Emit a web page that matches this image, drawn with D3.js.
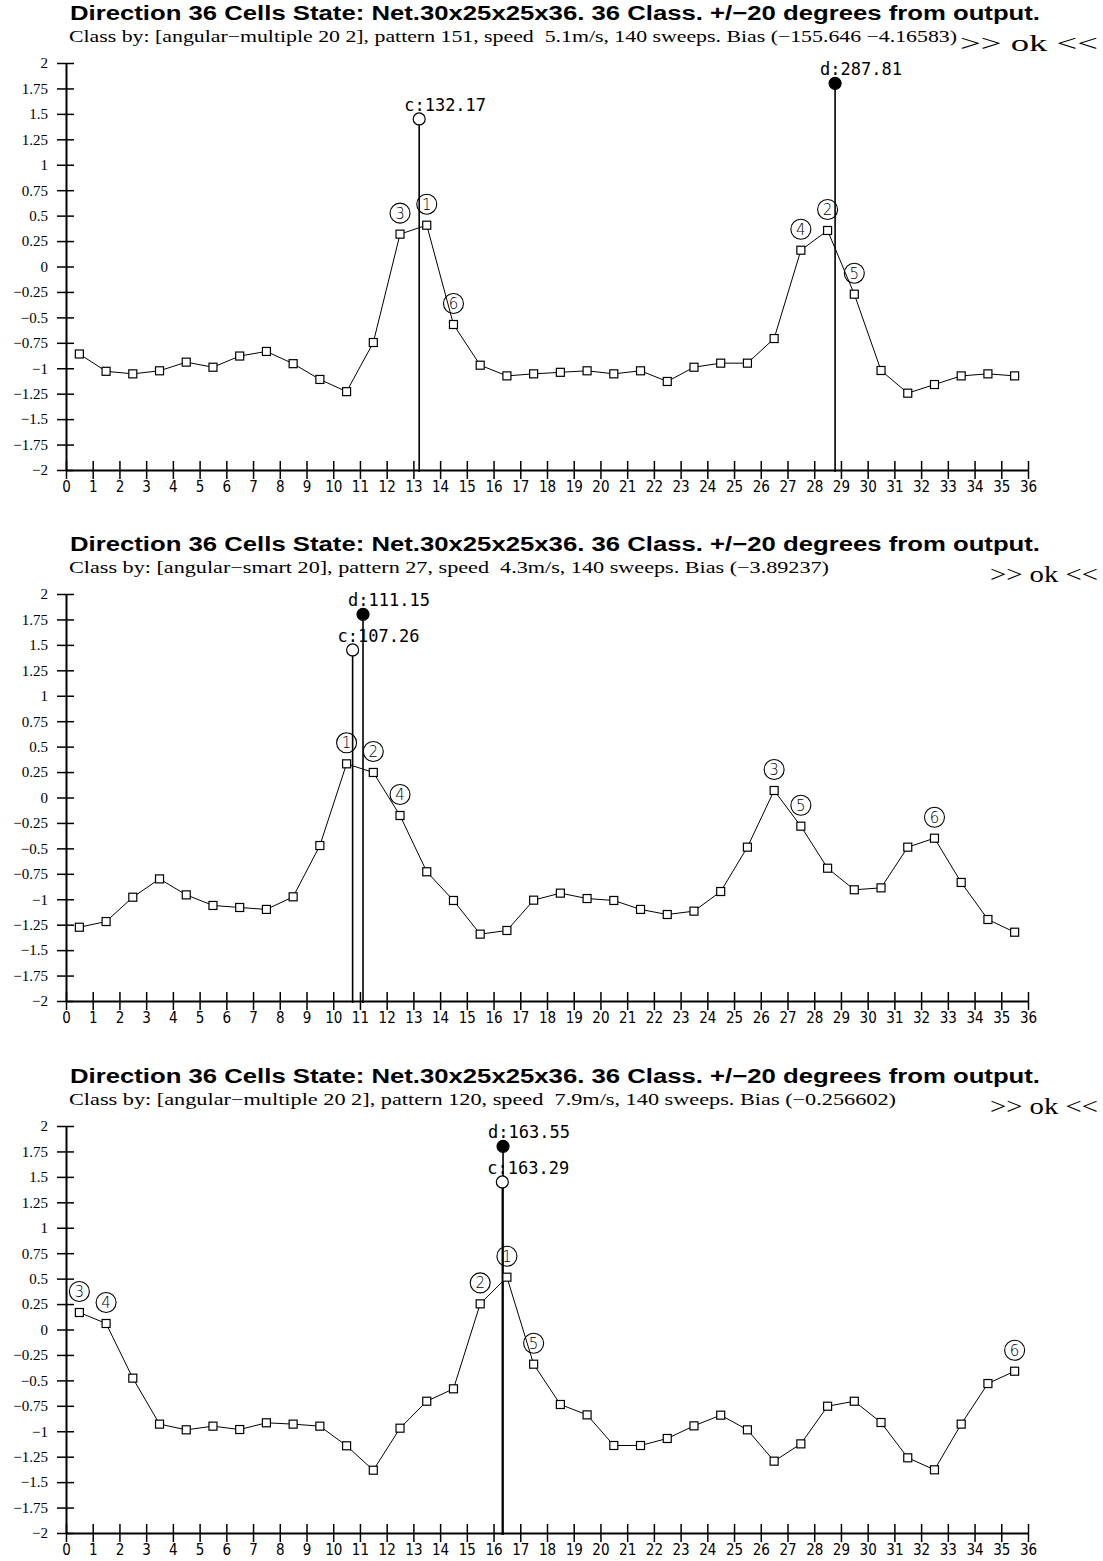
<!DOCTYPE html>
<html>
<head>
<meta charset="utf-8">
<script src="https://cdn.jsdelivr.net/npm/d3@7"></script>
<style>
  html, body { margin: 0; padding: 0; background: #fff; }
  svg { display: block; }
  text { white-space: pre; }
</style>
</head>
<body>
<script>
// ---- data -------------------------------------------------------------
// cell centres along the direction axis (36 cells of 10 degrees each)
const cellCentres = [0.5, 1.5, 2.5, 3.5, 4.5, 5.5, 6.5, 7.5, 8.5, 9.5, 10.5, 11.5,
  12.5, 13.5, 14.5, 15.5, 16.5, 17.5, 18.5, 19.5, 20.5, 21.5, 22.5, 23.5,
  24.5, 25.5, 26.5, 27.5, 28.5, 29.5, 30.5, 31.5, 32.5, 33.5, 34.5, 35.5];

const xTickLabels = [0, 1, 2, 3, 4, 5, 6, 7, 8, 9, 10, 11, 12, 13, 14, 15, 16, 17, 18,
  19, 20, 21, 22, 23, 24, 25, 26, 27, 28, 29, 30, 31, 32, 33, 34, 35, 36];
const yTickLabels = [2, 1.75, 1.5, 1.25, 1, 0.75, 0.5, 0.25, 0,
  -0.25, -0.5, -0.75, -1, -1.25, -1.5, -1.75, -2];

// cell states for pattern 151
const statePattern151 = [-0.86, -1.03, -1.055, -1.025, -0.94, -0.99, -0.88, -0.835, -0.955,
  -1.11, -1.23, -0.747, 0.318, 0.406, -0.57, -0.97, -1.075, -1.055,
  -1.04, -1.025, -1.055, -1.025, -1.13, -0.99, -0.95, -0.95, -0.708,
  0.16, 0.354, -0.272, -1.022, -1.245, -1.16, -1.075, -1.055, -1.075];
// cell states for pattern 27
const statePattern27 = [-1.275, -1.219, -0.98, -0.80, -0.957, -1.061, -1.081, -1.10, -0.976,
  -0.472, 0.331, 0.246, -0.177, -0.73, -1.012, -1.343, -1.307, -1.009,
  -0.94, -0.993, -1.012, -1.10, -1.15, -1.117, -0.924, -0.488, 0.069,
  -0.282, -0.695, -0.907, -0.888, -0.488, -0.40, -0.835, -1.199, -1.324];
// cell states for pattern 120
const statePattern120 = [0.167, 0.059, -0.478, -0.93, -0.986, -0.95, -0.983, -0.917, -0.93,
  -0.95, -1.143, -1.383, -0.97, -0.705, -0.583, 0.252, 0.514, -0.341,
  -0.737, -0.839, -1.14, -1.14, -1.071, -0.947, -0.842, -0.986, -1.294,
  -1.124, -0.754, -0.705, -0.914, -1.261, -1.379, -0.93, -0.531, -0.41];

const panelTitles = [
  "Direction 36 Cells State: Net.30x25x25x36. 36 Class. +/\u221220 degrees from output.",
  "Direction 36 Cells State: Net.30x25x25x36. 36 Class. +/\u221220 degrees from output.",
  "Direction 36 Cells State: Net.30x25x25x36. 36 Class. +/\u221220 degrees from output."
];
const panelSubtitles = [
  "Class by: [angular\u2212multiple 20 2], pattern 151, speed  5.1m/s, 140 sweeps. Bias (\u2212155.646 \u22124.16583)",
  "Class by: [angular\u2212smart 20], pattern 27, speed  4.3m/s, 140 sweeps. Bias (\u22123.89237)",
  "Class by: [angular\u2212multiple 20 2], pattern 120, speed  7.9m/s, 140 sweeps. Bias (\u22120.256602)"
];
const panelVerdicts = [">> ok <<", ">> ok <<", ">> ok <<"];

// classified (c) and desired (d) directions, in degrees
const classDirections = ["132.17", "107.26", "163.29"];
const desiredDirections = ["287.81", "111.15", "163.55"];
const classMarkerLevel = 1.45;
const desiredMarkerLevel = 1.8;
const rankedCount = 6;

const panelStates = [statePattern151, statePattern27, statePattern120];

// ---- layout -----------------------------------------------------------
const W = 1103, H = 1561;
const panelTop = [0, 531, 1063];
const titleWidth = 970;
const subtitleWidths = [888, 760, 827];
const verdictLeft = [960, 990, 990];
const verdictRight = 1098;

const svg = d3.select("body").append("svg")
  .attr("width", W).attr("height", H)
  .attr("viewBox", `0 0 ${W} ${H}`);

svg.append("rect").attr("width", W).attr("height", H).attr("fill", "#fff");

const x = d3.scaleLinear().domain([0, 36]).range([66, 1028]);
const fmt = v => String(v).replace("-", "\u2212");

panelStates.forEach((values, p) => {
  const top = panelTop[p];
  const y = d3.scaleLinear().domain([-2, 2]).range([top + 470, top + 63]);
  const g = svg.append("g");

  // headings
  g.append("text")
    .attr("x", 70).attr("y", top + 20)
    .attr("font-family", "'Liberation Sans', Arial, sans-serif")
    .attr("font-weight", "bold").attr("font-size", 20)
    .attr("textLength", titleWidth).attr("lengthAdjust", "spacingAndGlyphs")
    .text(panelTitles[p]);

  g.append("text")
    .attr("x", 69).attr("y", top + 42)
    .attr("font-family", "'Liberation Serif', 'Times New Roman', serif")
    .attr("font-size", 16)
    .attr("textLength", subtitleWidths[p]).attr("lengthAdjust", "spacingAndGlyphs")
    .text(panelSubtitles[p]);

  g.append("text")
    .attr("x", verdictLeft[p]).attr("y", top + 51)
    .attr("font-family", "'Liberation Serif', 'Times New Roman', serif")
    .attr("font-size", 23)
    .attr("textLength", verdictRight - verdictLeft[p]).attr("lengthAdjust", "spacingAndGlyphs")
    .text(panelVerdicts[p]);

  // y axis with ticks crossing the axis line
  const yAxis = g.append("g")
    .attr("transform", `translate(${x(0)},0)`)
    .call(d3.axisLeft(y).tickValues(yTickLabels).tickFormat(fmt).tickSizeOuter(0));
  yAxis.attr("font-size", null).attr("font-family", null);
  yAxis.select(".domain").attr("stroke-width", 2);
  yAxis.selectAll(".tick line").attr("x1", -9).attr("x2", 8).attr("stroke-width", 1.5);
  yAxis.selectAll(".tick text")
    .attr("x", -18)
    .style("font-family", "'Liberation Serif', 'Times New Roman', serif")
    .style("font-size", "15px").attr("fill", "#000");

  // x axis along the lower limit
  const xAxis = g.append("g")
    .attr("transform", `translate(0,${y(-2)})`)
    .call(d3.axisBottom(x).tickValues(xTickLabels).tickFormat(d3.format("d")).tickSizeOuter(0));
  xAxis.attr("font-size", null).attr("font-family", null);
  xAxis.select(".domain").attr("stroke-width", 2);
  xAxis.selectAll(".tick line").attr("y1", -9).attr("y2", 9).attr("stroke-width", 1.5);
  xAxis.selectAll(".tick text")
    .attr("y", 11)
    .style("font-family", "'DejaVu Sans Condensed', 'DejaVu Sans', sans-serif")
    .style("font-stretch", "condensed")
    .style("font-size", "15px").attr("fill", "#000");

  // direction markers: classified (open) and desired (filled)
  const markers = [
    { key: "c", deg: classDirections[p], level: classMarkerLevel, fill: "#fff" },
    { key: "d", deg: desiredDirections[p], level: desiredMarkerLevel, fill: "#000" }
  ];
  markers.forEach(m => {
    const mx = x(+m.deg / 10);
    g.append("line")
      .attr("x1", mx).attr("x2", mx)
      .attr("y1", y(m.level)).attr("y2", y(-2) + 2)
      .attr("stroke", "#000").attr("stroke-width", 1.6);
  });
  markers.forEach(m => {
    const mx = x(+m.deg / 10);
    g.append("circle")
      .attr("cx", mx).attr("cy", y(m.level)).attr("r", 6)
      .attr("fill", m.fill).attr("stroke", "#000").attr("stroke-width", 1.2);
    g.append("text")
      .attr("x", mx - 15).attr("y", y(m.level) - 8)
      .attr("font-family", "'DejaVu Sans Mono', monospace")
      .attr("font-size", 17)
      .text(`${m.key}:${m.deg}`);
  });

  // state curve
  const pts = cellCentres.map((c, i) => [c, values[i]]);
  g.append("path")
    .attr("d", d3.line().x(d => x(d[0])).y(d => y(d[1]))(pts))
    .attr("fill", "none").attr("stroke", "#000").attr("stroke-width", 1);

  g.selectAll(null).data(pts).join("rect")
    .attr("x", d => x(d[0]) - 4).attr("y", d => y(d[1]) - 4)
    .attr("width", 8).attr("height", 8)
    .attr("fill", "#fff").attr("stroke", "#000").attr("stroke-width", 1.2);

  // rank badges on the strongest cells
  const ranked = d3.range(values.length)
    .sort((a, b) => values[b] - values[a])
    .slice(0, rankedCount);
  ranked.forEach((idx, r) => {
    const bx = x(cellCentres[idx]);
    const by = y(values[idx]) - 21;
    g.append("circle")
      .attr("cx", bx).attr("cy", by).attr("r", 10)
      .attr("fill", "none").attr("stroke", "#000").attr("stroke-width", 1.1);
    g.append("text")
      .attr("x", bx).attr("y", by + 5.5)
      .attr("text-anchor", "middle")
      .attr("font-family", "'DejaVu Sans', sans-serif")
      .attr("font-weight", "300")
      .attr("font-size", 15)
      .text(r + 1);
  });
});
</script>
</body>
</html>
